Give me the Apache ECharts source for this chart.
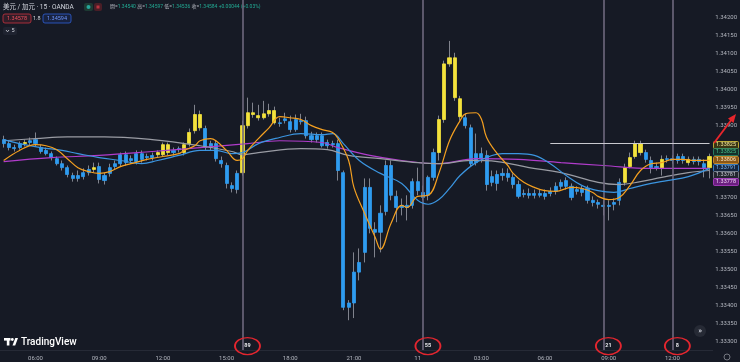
<!DOCTYPE html>
<html><head><meta charset="utf-8">
<script src="https://cdn.jsdelivr.net/npm/echarts@6/dist/echarts.min.js"></script>
<style>html,body{margin:0;padding:0;background:#161a25;}#c{width:740px;height:362px;}</style>
</head><body><div id="c"></div>
<script>
const categories = [
'10 04:30','10 04:45',
'10 05:00','10 05:15','10 05:30','10 05:45',
'10 06:00','10 06:15','10 06:30','10 06:45',
'10 07:00','10 07:15','10 07:30','10 07:45',
'10 08:00','10 08:15','10 08:30','10 08:45',
'10 09:00','10 09:15','10 09:30','10 09:45',
'10 10:00','10 10:15','10 10:30','10 10:45',
'10 11:00','10 11:15','10 11:30','10 11:45',
'10 12:00','10 12:15','10 12:30','10 12:45',
'10 13:00','10 13:15','10 13:30','10 13:45',
'10 14:00','10 14:15','10 14:30','10 14:45',
'10 15:00','10 15:15','10 15:30','10 15:45',
'10 16:00','10 16:15','10 16:30','10 16:45',
'10 17:00','10 17:15','10 17:30','10 17:45',
'10 18:00','10 18:15','10 18:30','10 18:45',
'10 19:00','10 19:15','10 19:30','10 19:45',
'10 20:00','10 20:15','10 20:30','10 20:45',
'10 21:00','10 21:15','10 21:30','10 21:45',
'10 22:00','10 22:15','10 22:30','10 22:45',
'10 23:00','10 23:15','10 23:30','10 23:45',
'11 00:00','11 00:15','11 00:30','11 00:45',
'11 01:00','11 01:15','11 01:30','11 01:45',
'11 02:00','11 02:15','11 02:30','11 02:45',
'11 03:00','11 03:15','11 03:30','11 03:45',
'11 04:00','11 04:15','11 04:30','11 04:45',
'11 05:00','11 05:15','11 05:30','11 05:45',
'11 06:00','11 06:15','11 06:30','11 06:45',
'11 07:00','11 07:15','11 07:30','11 07:45',
'11 08:00','11 08:15','11 08:30','11 08:45',
'11 09:00','11 09:15','11 09:30','11 09:45',
'11 10:00','11 10:15','11 10:30','11 10:45',
'11 11:00','11 11:15','11 11:30','11 11:45',
'11 12:00','11 12:15','11 12:30','11 12:45',
'11 13:00','11 13:15','11 13:30','11 13:45'];

const openP = [
1.33861,1.33850,1.33839,1.33850,1.33850,1.33858,1.33861,1.33839,1.33831,1.33822,
1.33808,1.33794,1.33783,1.33761,1.33761,1.33769,1.33778,1.33778,1.33786,1.33761,
1.33783,1.33794,1.33819,1.33819,1.33808,1.33822,1.33822,1.33814,1.33817,1.33819,
1.33819,1.33825,1.33831,1.33836,1.33825,1.33850,1.33886,1.33894,1.33892,1.33850,
1.33850,1.33803,1.33789,1.33733,1.33767,1.33769,1.33900,1.33931,1.33922,1.33922,
1.33933,1.33908,1.33908,1.33919,1.33911,1.33917,1.33914,1.33914,1.33872,1.33872,
1.33872,1.33853,1.33850,1.33850,1.33769,1.33406,1.33492,1.33519,1.33728,1.33728,
1.33611,1.33656,1.33789,1.33789,1.33703,1.33678,1.33678,1.33744,1.33744,1.33714,
1.33756,1.33825,1.33825,1.33917,1.34072,1.33978,1.33925,1.33922,1.33894,1.33822,
1.33822,1.33817,1.33758,1.33764,1.33767,1.33767,1.33756,1.33736,1.33711,1.33711,
1.33711,1.33711,1.33711,1.33717,1.33731,1.33742,1.33747,1.33731,1.33722,1.33725,
1.33725,1.33692,1.33686,1.33678,1.33678,1.33686,1.33742,1.33742,1.33786,1.33814,
1.33825,1.33825,1.33803,1.33786,1.33781,1.33808,1.33808,1.33814,1.33814,1.33797,
1.33806,1.33806,1.33794,1.33783];
const closeP = [
1.33850,1.33839,1.33836,1.33839,1.33853,1.33853,1.33850,1.33828,1.33822,1.33811,
1.33794,1.33783,1.33764,1.33753,1.33753,1.33758,1.33769,1.33783,1.33750,1.33747,
1.33767,1.33786,1.33794,1.33797,1.33803,1.33800,1.33806,1.33811,1.33811,1.33825,
1.33847,1.33847,1.33825,1.33833,1.33847,1.33881,1.33931,1.33931,1.33839,1.33839,
1.33808,1.33794,1.33739,1.33725,1.33722,1.33900,1.33936,1.33936,1.33928,1.33933,
1.33942,1.33942,1.33906,1.33914,1.33889,1.33889,1.33911,1.33872,1.33861,1.33861,
1.33844,1.33844,1.33847,1.33775,1.33394,1.33394,1.33406,1.33492,1.33547,1.33614,
1.33603,1.33603,1.33661,1.33706,1.33672,1.33672,1.33672,1.33678,1.33719,1.33700,
1.33706,1.33756,1.33917,1.34072,1.34089,1.34089,1.33975,1.33900,1.33794,1.33797,
1.33808,1.33736,1.33742,1.33739,1.33761,1.33756,1.33736,1.33703,1.33708,1.33706,
1.33706,1.33706,1.33703,1.33711,1.33717,1.33731,1.33731,1.33700,1.33717,1.33714,
1.33692,1.33686,1.33681,1.33675,1.33675,1.33681,1.33692,1.33783,1.33811,1.33850,
1.33850,1.33806,1.33783,1.33783,1.33806,1.33806,1.33803,1.33803,1.33803,1.33806,
1.33800,1.33800,1.33783,1.33814];
const lowP = [
1.33839,1.33831,1.33828,1.33833,1.33842,1.33844,1.33842,1.33822,1.33817,1.33803,
1.33789,1.33775,1.33756,1.33744,1.33744,1.33750,1.33761,1.33769,1.33739,1.33736,
1.33758,1.33778,1.33786,1.33789,1.33794,1.33792,1.33797,1.33803,1.33803,1.33811,
1.33814,1.33817,1.33817,1.33825,1.33817,1.33842,1.33878,1.33886,1.33831,1.33831,
1.33800,1.33783,1.33725,1.33714,1.33711,1.33761,1.33892,1.33922,1.33914,1.33917,
1.33925,1.33903,1.33897,1.33906,1.33881,1.33883,1.33903,1.33864,1.33853,1.33853,
1.33839,1.33836,1.33839,1.33747,1.33386,1.33358,1.33364,1.33469,1.33519,1.33600,
1.33533,1.33547,1.33650,1.33692,1.33631,1.33650,1.33636,1.33669,1.33706,1.33692,
1.33692,1.33747,1.33803,1.33908,1.34064,1.33969,1.33914,1.33892,1.33786,1.33789,
1.33797,1.33719,1.33731,1.33719,1.33747,1.33744,1.33725,1.33697,1.33700,1.33697,
1.33697,1.33700,1.33694,1.33703,1.33708,1.33722,1.33722,1.33692,1.33708,1.33703,
1.33683,1.33675,1.33669,1.33650,1.33636,1.33664,1.33678,1.33733,1.33781,1.33808,
1.33817,1.33797,1.33767,1.33775,1.33761,1.33797,1.33794,1.33794,1.33794,1.33789,
1.33792,1.33789,1.33756,1.33753];
const highP = [
1.33872,1.33858,1.33847,1.33856,1.33861,1.33867,1.33881,1.33847,1.33839,1.33828,
1.33814,1.33803,1.33789,1.33769,1.33775,1.33781,1.33789,1.33797,1.33797,1.33769,
1.33794,1.33803,1.33825,1.33828,1.33817,1.33831,1.33831,1.33822,1.33825,1.33831,
1.33853,1.33853,1.33839,1.33842,1.33853,1.33892,1.33958,1.33942,1.33900,1.33858,
1.33858,1.33814,1.33797,1.33742,1.33775,1.33914,1.33978,1.33964,1.33958,1.33969,
1.33961,1.33953,1.33922,1.33936,1.33928,1.33931,1.33933,1.33925,1.33883,1.33881,
1.33881,1.33861,1.33858,1.33861,1.33775,1.33414,1.33547,1.33558,1.33753,1.33753,
1.33631,1.33678,1.33803,1.33803,1.33719,1.33697,1.33706,1.33753,1.33783,1.33733,
1.33761,1.33836,1.33928,1.34081,1.34136,1.34103,1.33983,1.33933,1.33903,1.33878,
1.33839,1.33831,1.33775,1.33775,1.33781,1.33781,1.33767,1.33747,1.33722,1.33725,
1.33722,1.33722,1.33722,1.33728,1.33742,1.33750,1.33756,1.33739,1.33731,1.33733,
1.33733,1.33703,1.33694,1.33692,1.33692,1.33697,1.33753,1.33794,1.33825,1.33858,
1.33858,1.33833,1.33814,1.33797,1.33817,1.33817,1.33817,1.33822,1.33822,1.33814,
1.33814,1.33814,1.33806,1.33822];

// moving-average lines at the listed bar indices
const orangeIdx = [0,3,6,8,10,12,14,16,18,20,22,24,27,30,33,34,36,37,39,40,42,44,45,46,48,50,52,54,56,58,60,62,63,65,66,68,70,71,73,75,76,78,80,82,84,86,87,89,90,91,93,95,96,98,100,102,104,107,109,111,112,114,116,118,120,122,124,126,128,130,133];
const orangeVal = [1.33803,1.33831,1.33847,1.33844,1.33833,1.33808,1.33783,1.33772,1.33767,1.33772,1.33786,1.33794,1.33806,1.33814,1.33822,1.33831,1.33844,1.33858,1.33864,1.33858,1.33831,1.33803,1.33808,1.33831,1.33864,1.33894,1.33925,1.33922,1.33917,1.33900,1.33889,1.33881,1.33864,1.33803,1.33728,1.33656,1.33589,1.33556,1.33628,1.33678,1.33672,1.33703,1.33706,1.33767,1.33858,1.33914,1.33933,1.33936,1.33919,1.33867,1.33822,1.33789,1.33767,1.33742,1.33728,1.33719,1.33717,1.33728,1.33725,1.33714,1.33703,1.33694,1.33700,1.33733,1.33775,1.33794,1.33797,1.33806,1.33806,1.33803,1.33803];
const blueIdx = [0,3,7,11,14,18,22,26,29,33,37,40,43,45,48,52,56,60,62,64,67,71,75,78,80,82,84,86,89,92,94,97,100,103,106,109,112,115,118,122,125,129,133];
const blueVal = [1.33861,1.33850,1.33839,1.33831,1.33822,1.33811,1.33803,1.33794,1.33803,1.33817,1.33831,1.33831,1.33822,1.33825,1.33850,1.33867,1.33878,1.33875,1.33878,1.33850,1.33803,1.33767,1.33739,1.33692,1.33681,1.33694,1.33725,1.33761,1.33797,1.33817,1.33822,1.33822,1.33817,1.33794,1.33761,1.33733,1.33719,1.33714,1.33725,1.33739,1.33747,1.33758,1.33781];
const grayIdx = [0,6,12,19,28,37,43,45,48,56,61,65,71,78,82,88,93,99,105,112,116,120,124,129,133];
const grayVal = [1.33858,1.33864,1.33869,1.33869,1.33861,1.33844,1.33828,1.33819,1.33825,1.33836,1.33833,1.33817,1.33808,1.33797,1.33794,1.33803,1.33800,1.33783,1.33769,1.33742,1.33736,1.33744,1.33756,1.33769,1.33775];
const purpleIdx = [0,9,18,28,37,46,52,60,63,69,75,82,89,97,105,113,122,133];
const purpleVal = [1.33800,1.33811,1.33817,1.33828,1.33839,1.33850,1.33858,1.33853,1.33839,1.33817,1.33803,1.33794,1.33808,1.33806,1.33797,1.33789,1.33781,1.33781];

// annotations
const fibIdx = [45,79,113,126];
const fibCount = ['89','55','21','8'];
const fibLabelPrice = 1.33286;
const vLineTop = 1.3425, vLineBottom = 1.33275;
const hLineStart = 103, hLineEnd = 133, hLinePrice = 1.33851;
const tagValues = ['1.33825','1.33825','1.33806','1.33791','1.33781','1.33778'];
const yMin = 1.3325, yMax = 1.3425, yStep = 0.0005;

const chart = echarts.init(document.getElementById('c'));
const FONT = 'Roboto, "Noto Sans", "Noto Sans CJK SC", sans-serif';
const pairs = (ix, vs) => ix.map((k, j) => [k, vs[j]]);
const wickData = openP.map((o, i) => [o, closeP[i], lowP[i], highP[i]]);
const bodyData = openP.map((o, i) => [o, closeP[i], Math.min(o, closeP[i]), Math.max(o, closeP[i])]);

const tagStyles = [
  {fill:'#3a3514', stroke:'#d9c63a', text:'#f3e99a'},
  {fill:'#15302a', stroke:'#2f8f6c', text:'#43c08a'},
  {fill:'#8a5716', stroke:'#e29a2c', text:'#ffe6c0'},
  {fill:'#15253e', stroke:'#3b8fe0', text:'#7fbaf5'},
  {fill:'#23262f', stroke:'#8a8d96', text:'#c9ccd3'},
  {fill:'#6b1f80', stroke:'#b340cc', text:'#f1d6f7'}
];
const tagY = [145,152,160,168,175,182];
const graphics = [];
tagValues.forEach((v, j) => {
  graphics.push({type:'rect', shape:{x:713.5, y:tagY[j]-3.5, width:25, height:7, r:1}, style:{fill:tagStyles[j].fill, stroke:tagStyles[j].stroke, lineWidth:0.8}, z:100});
  graphics.push({type:'text', x:726, y:tagY[j], style:{text:v, fill:tagStyles[j].text, fontSize:5.5, fontFamily:FONT, align:'center', verticalAlign:'middle'}, z:101});
});
graphics.push(
  {type:'text', x:3, y:7, style:{text:'美元 / 加元 · 15 · OANDA', fill:'#d1d4dc', fontSize:6.5, fontFamily:FONT, verticalAlign:'middle'}},
  {type:'rect', shape:{x:84, y:3, width:9, height:8, r:2}, style:{fill:'#1d3a33'}},
  {type:'circle', shape:{cx:88.5, cy:7, r:2}, style:{fill:'#26a69a'}},
  {type:'rect', shape:{x:94, y:3, width:8, height:8, r:2}, style:{fill:'#4a1e27'}},
  {type:'rect', shape:{x:96.5, y:5.5, width:3, height:3}, style:{fill:'#b8323f'}},
  {type:'text', x:110, y:7, style:{text:'{l|開=}{v|1.34540} {l|高=}{v|1.34597} {l|低=}{v|1.34536} {l|收=}{v|1.34584} {v|+0.00044 (+0.03%)}', fontSize:5, fontFamily:FONT, verticalAlign:'middle', rich:{l:{fill:'#b2b5be', fontSize:5, fontFamily:FONT}, v:{fill:'#22ab94', fontSize:5, fontFamily:FONT}}}},
  {type:'rect', shape:{x:3, y:14, width:28, height:9, r:2}, style:{fill:'rgba(242,54,69,0.12)', stroke:'#c8323f', lineWidth:0.8}},
  {type:'text', x:17, y:18.5, style:{text:'1.34578', fill:'#f0505c', fontSize:5.5, fontFamily:FONT, align:'center', verticalAlign:'middle'}},
  {type:'text', x:33, y:18.5, style:{text:'1.8', fill:'#d1d4dc', fontSize:5.5, fontFamily:FONT, verticalAlign:'middle'}},
  {type:'rect', shape:{x:43, y:14, width:28, height:9, r:2}, style:{fill:'rgba(41,98,255,0.12)', stroke:'#2f5fd8', lineWidth:0.8}},
  {type:'text', x:57, y:18.5, style:{text:'1.34594', fill:'#6d95ff', fontSize:5.5, fontFamily:FONT, align:'center', verticalAlign:'middle'}},
  {type:'rect', shape:{x:3, y:27, width:14, height:8, r:2}, style:{fill:'#1f2330'}},
  {type:'polyline', shape:{points:[[6,30],[7.5,31.8],[9,30]]}, style:{stroke:'#d1d4dc', lineWidth:0.8, fill:null}},
  {type:'text', x:11.5, y:31, style:{text:'5', fill:'#d1d4dc', fontSize:5.5, fontFamily:FONT, verticalAlign:'middle'}},
  // TradingView logo
  {type:'rect', shape:{x:4, y:338, width:6.5, height:2.6}, style:{fill:'#ffffff'}},
  {type:'rect', shape:{x:6.8, y:338, width:2.6, height:7.5}, style:{fill:'#ffffff'}},
  {type:'circle', shape:{cx:12.3, cy:339.5, r:1.4}, style:{fill:'#ffffff'}},
  {type:'polygon', shape:{points:[[12.5,345.5],[15.3,338],[18,338],[15.2,345.5]]}, style:{fill:'#ffffff'}},
  {type:'text', x:21, y:342, style:{text:'TradingView', fill:'#ffffff', fontSize:10, fontWeight:'500', fontFamily:FONT, verticalAlign:'middle'}},
  {type:'line', shape:{x1:0, y1:350.5, x2:713, y2:350.5}, style:{stroke:'#262a36', lineWidth:1}},
  {type:'circle', shape:{cx:700, cy:331, r:6}, style:{fill:'#262a35'}},
  {type:'text', x:700, y:331, style:{text:'»', fill:'#e0e3eb', fontSize:8, fontFamily:FONT, align:'center', verticalAlign:'middle'}},
  {type:'circle', shape:{cx:727, cy:357, r:3}, style:{fill:null, stroke:'#8a8d96', lineWidth:0.8}},
  // red arrow annotation
  {type:'line', shape:{x1:714, y1:143, x2:732, y2:119}, style:{stroke:'#e8262c', lineWidth:1.8}, z:120},
  {type:'polygon', shape:{points:[[736,114],[728,118.5],[733.5,123]]}, style:{fill:'#e8262c'}, z:120}
);

chart.setOption({
  backgroundColor:'#161a25',
  animation:false,
  grid:{left:1, top:-1, width:712, height:360, containLabel:false},
  xAxis:{type:'category', data:categories, boundaryGap:true,
    axisLine:{show:false}, axisTick:{show:false}, splitLine:{show:false},
    axisLabel:{margin:-4, color:'#b2b5be', fontSize:6, fontFamily:FONT,
      interval:(idx, val) => { const t = val.split(' ')[1]; return t.slice(3) === '00' && (+t.slice(0,2)) % 3 === 0; },
      formatter:(val) => { const [d, t] = val.split(' '); return (t === '00:00') ? d : t; }}},
  yAxis:{type:'value', position:'right', min:yMin, max:yMax, interval:yStep, scale:true,
    axisLine:{show:false}, axisTick:{show:false}, splitLine:{show:false},
    axisLabel:{margin:3, color:'#b2b5be', fontSize:6, fontFamily:FONT,
      formatter:(v) => (v < yMin + 1e-6 || v > yMax - 1e-6) ? '' : v.toFixed(5)}},
  graphic:graphics,
  series:[
    {type:'candlestick', name:'wick', data:wickData, barWidth:1, silent:true, z:2,
      itemStyle:{color:'#80838d', color0:'#80838d', borderColor:'#80838d', borderColor0:'#80838d', borderWidth:1},
      markLine:{silent:true, symbol:['none','none'], animation:false, label:{show:false},
        data:[
          ...fibIdx.map(k => [{coord:[k, vLineTop], lineStyle:{color:'#6e687e', width:1.6, type:'solid'}}, {coord:[k, vLineBottom]}]),
          [{coord:[hLineStart, hLinePrice], lineStyle:{color:'#c9c9cf', width:1, type:'solid'}}, {coord:[hLineEnd, hLinePrice]}]
        ]},
      markPoint:{silent:true, animation:false, symbol:'circle', symbolSize:[25,17], symbolOffset:[5,0],
        itemStyle:{color:'rgba(0,0,0,0)', borderColor:'#e3262f', borderWidth:1.6},
        label:{show:true, color:'#e6e6ea', fontSize:5.5, fontWeight:'bold', fontFamily:FONT, formatter:(p) => p.name},
        data:fibIdx.map((k, j) => ({name:fibCount[j], coord:[k, fibLabelPrice]}))}
    },
    {type:'candlestick', name:'body', data:bodyData, barWidth:3.6, silent:true, z:3,
      itemStyle:{color:'#f4e23c', color0:'#2e9cf0', borderColor:'#f4e23c', borderColor0:'#2e9cf0', borderWidth:0.8}},
    {type:'line', data:pairs(purpleIdx, purpleVal), smooth:0.4, showSymbol:false, silent:true, z:4, lineStyle:{color:'#b03ccb', width:1.2}},
    {type:'line', data:pairs(grayIdx, grayVal), smooth:0.4, showSymbol:false, silent:true, z:4, lineStyle:{color:'#9a9ca4', width:1.2}},
    {type:'line', data:pairs(blueIdx, blueVal), smooth:0.4, showSymbol:false, silent:true, z:5, lineStyle:{color:'#3b95e0', width:1.2}},
    {type:'line', data:pairs(orangeIdx, orangeVal), smooth:0.4, showSymbol:false, silent:true, z:6, lineStyle:{color:'#f5a020', width:1.2}}
  ]
});
</script></body></html>
